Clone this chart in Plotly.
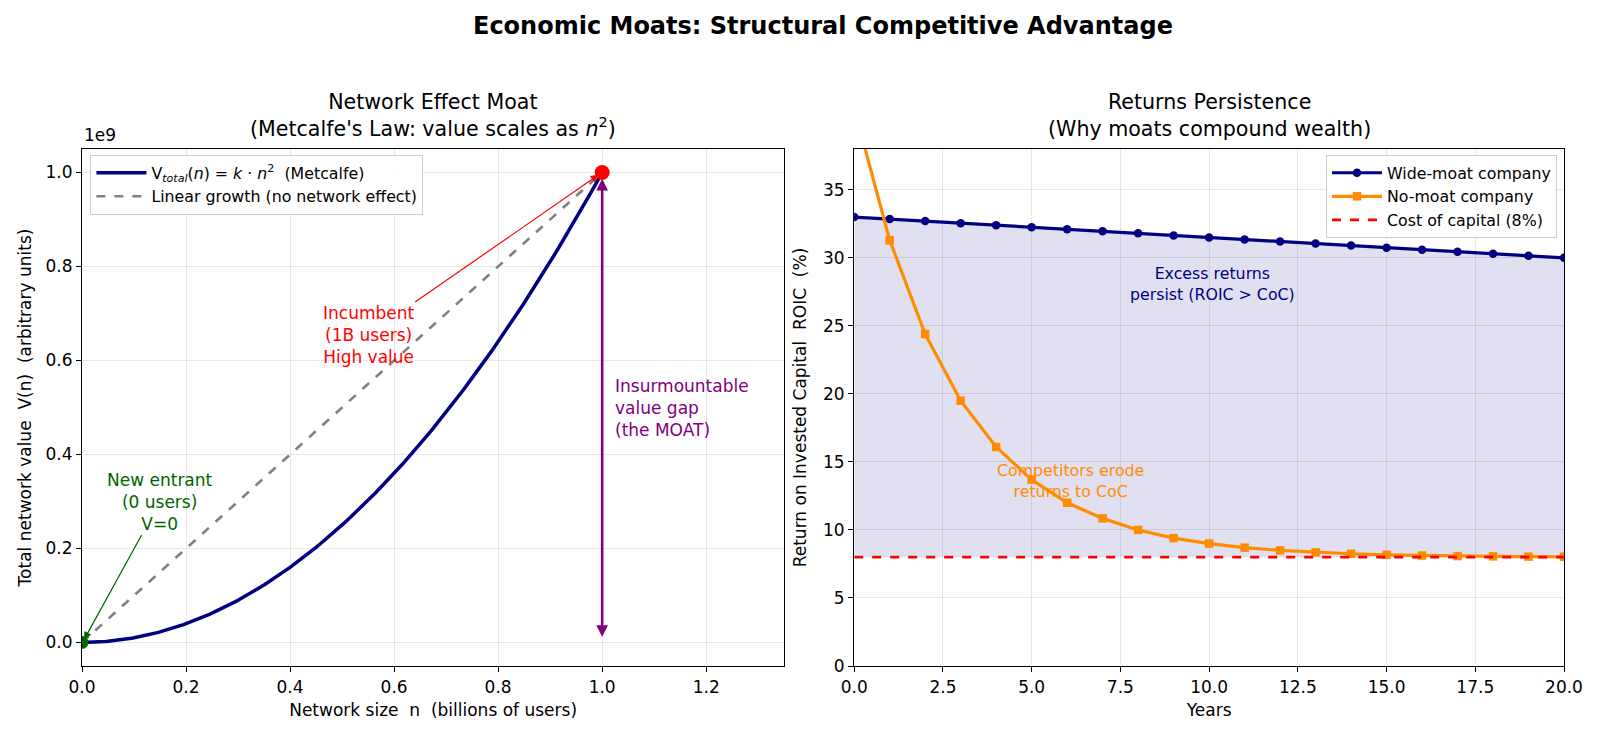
import numpy as np
import plotly.graph_objects as go

# ---------------- data ----------------
# Left panel: network size (billions) and Metcalfe value
n_users = np.linspace(0, 1, 201)
k_const = 1e9
v_metcalfe = k_const * n_users ** 2
v_linear = k_const * n_users
left_ticks = [0.0, 0.2, 0.4, 0.6, 0.8, 1.0]

# Right panel: ROIC over time
years = list(range(0, 21))
wide_moat = [33.0, 32.85, 32.7, 32.55, 32.4, 32.25, 32.1, 31.95, 31.8, 31.65, 31.5,
             31.35, 31.2, 31.05, 30.9, 30.75, 30.6, 30.45, 30.3, 30.15, 30.0]
no_moat = [41.0, 31.3, 24.4, 19.5, 16.1, 13.7, 12.0, 10.85, 10.0, 9.4, 9.0,
           8.7, 8.5, 8.35, 8.25, 8.17, 8.12, 8.08, 8.06, 8.04, 8.03]
cost_of_capital = 8.0

FONT = "DejaVu Sans"
W, H = 1600, 738
ML, MR, MT, MB = 81.6, 36, 149, 72
PW = W - ML - MR
PH = H - MT - MB
X1 = [0, (784 - ML) / PW]
X2 = [(854 - ML) / PW, 1]

fig = go.Figure()

# ---------------- left panel ----------------
fig.add_trace(go.Scatter(x=n_users, y=v_metcalfe, mode="lines",
                         line=dict(color="#000080", width=3.5),
                         name="V<sub><i>total</i></sub>(<i>n</i>) = <i>k</i> · <i>n</i><sup>2</sup>  (Metcalfe)",
                         xaxis="x", yaxis="y", legend="legend"))
fig.add_trace(go.Scatter(x=n_users, y=v_linear, mode="lines",
                         line=dict(color="#808080", width=2.6, dash="dash"),
                         name="Linear growth (no network effect)",
                         xaxis="x", yaxis="y", legend="legend"))
fig.add_trace(go.Scatter(x=[1.0], y=[k_const], mode="markers",
                         marker=dict(color="red", size=15), showlegend=False,
                         xaxis="x", yaxis="y"))
fig.add_trace(go.Scatter(x=[0.0], y=[0.0], mode="markers",
                         marker=dict(color="#006400", size=13), showlegend=False,
                         xaxis="x", yaxis="y"))

# ---------------- right panel ----------------
fig.add_trace(go.Scatter(x=years, y=[cost_of_capital] * len(years), mode="lines",
                         line=dict(width=0), showlegend=False, hoverinfo="skip",
                         xaxis="x2", yaxis="y2"))
fig.add_trace(go.Scatter(x=years, y=wide_moat, mode="lines", fill="tonexty",
                         fillcolor="rgba(0,0,128,0.12)", line=dict(width=0),
                         showlegend=False, hoverinfo="skip",
                         xaxis="x2", yaxis="y2"))
fig.add_trace(go.Scatter(x=years, y=wide_moat, mode="lines+markers",
                         line=dict(color="#000080", width=3.2),
                         marker=dict(symbol="circle", size=8.5, color="#000080"),
                         name="Wide-moat company", xaxis="x2", yaxis="y2", legend="legend2"))
fig.add_trace(go.Scatter(x=years, y=no_moat, mode="lines+markers",
                         line=dict(color="#ff8c00", width=3.2),
                         marker=dict(symbol="square", size=8.5, color="#ff8c00"),
                         name="No-moat company", xaxis="x2", yaxis="y2", legend="legend2"))
fig.add_trace(go.Scatter(x=[0, 20], y=[cost_of_capital, cost_of_capital], mode="lines",
                         line=dict(color="red", width=2.6, dash="dash"),
                         name="Cost of capital (8%)", xaxis="x2", yaxis="y2", legend="legend2"))

axis_common = dict(showline=True, linecolor="black", linewidth=1.2, mirror=True,
                   ticks="outside", ticklen=5, tickcolor="black", automargin=False,
                   showgrid=True, gridcolor="rgba(0,0,0,0.09)", gridwidth=1,
                   zeroline=False, tickfont=dict(family=FONT, size=17, color="black"),
                   title_font=dict(family=FONT, size=17, color="black"))

legend_common = dict(bgcolor="rgba(255,255,255,0.85)", bordercolor="#cccccc", borderwidth=1,
                     font=dict(family=FONT, size=15.8), tracegroupgap=0,
                     traceorder="normal", itemwidth=50)

fig.update_layout(
    width=W, height=H,
    margin=dict(l=ML, r=MR, t=MT, b=MB, autoexpand=False),
    paper_bgcolor="white", plot_bgcolor="white",
    font=dict(family=FONT, color="black"),
    xaxis=dict(domain=X1, range=[0, 1.35], anchor="y",
               tickvals=[0.0, 0.2, 0.4, 0.6, 0.8, 1.0, 1.2], tickformat=".1f",
               title=dict(text="Network size  n  (billions of users)", standoff=8),
               **axis_common),
    yaxis=dict(domain=[0, 1], range=[-0.05e9, 1.05e9], anchor="x",
               tickvals=[t * k_const for t in left_ticks],
               ticktext=[f"{t:.1f}" for t in left_ticks],
               title=dict(text="Total network value  V(n)  (arbitrary units)", standoff=9),
               **axis_common),
    xaxis2=dict(domain=X2, range=[0, 20], anchor="y2",
                tickvals=[0, 2.5, 5, 7.5, 10, 12.5, 15, 17.5, 20], tickformat=".1f",
                title=dict(text="Years", standoff=8), **axis_common),
    yaxis2=dict(domain=[0, 1], range=[0, 38], anchor="x2",
                tickvals=[0, 5, 10, 15, 20, 25, 30, 35],
                title=dict(text="Return on Invested Capital  ROIC  (%)", standoff=12),
                **axis_common),
    legend=dict(x=(90 - ML) / PW, y=(H - MB - 155) / PH, xanchor="left", yanchor="top",
                **legend_common),
    legend2=dict(x=(1557 - ML) / PW, y=(H - MB - 155) / PH, xanchor="right", yanchor="top",
                 **legend_common),
    showlegend=True,
)


def py(pix):
    return (H - MB - pix) / PH


annotations = [
    dict(text="<b>Economic Moats: Structural Competitive Advantage</b>", x=0.5, y=py(26),
         xref="paper", yref="paper", showarrow=False, font=dict(size=24, family=FONT),
         xanchor="center", yanchor="middle"),
    dict(text="Network Effect Moat<br>(Metcalfe's Law: value scales as <i>n</i><sup>2</sup>)",
         x=(X1[0] + X1[1]) / 2, y=py(143), xref="paper", yref="paper", showarrow=False,
         font=dict(size=20.6, family=FONT), xanchor="center", yanchor="bottom"),
    dict(text="Returns Persistence<br>(Why moats compound wealth)",
         x=(X2[0] + X2[1]) / 2, y=py(143), xref="paper", yref="paper", showarrow=False,
         font=dict(size=20.6, family=FONT), xanchor="center", yanchor="bottom"),
    dict(text="1e9", x=0, y=py(147), xref="paper", yref="paper", showarrow=False,
         font=dict(size=17, family=FONT), xanchor="left", yanchor="bottom"),
    # purple double arrow
    dict(x=1.0, y=0.012e9, ax=1.0, ay=0.99e9, xref="x", yref="y", axref="x", ayref="y",
         text="", showarrow=True, arrowhead=2, arrowside="end+start", arrowsize=0.9,
         arrowwidth=2.6, arrowcolor="#800080"),
    dict(text="Insurmountable<br>value gap<br>(the MOAT)", x=1.02, y=0.5e9, xref="x", yref="y",
         showarrow=False, xanchor="left", yanchor="middle", align="left",
         font=dict(color="#800080", size=17, family=FONT)),
    # incumbent (text with arrow to the incumbent point)
    dict(text="Incumbent<br>(1B users)<br>High value", x=0.993, y=0.995e9,
         ax=0.55, ay=0.655e9, xref="x", yref="y", axref="x", ayref="y",
         showarrow=True, arrowhead=2, arrowsize=1.3, arrowwidth=1.2, arrowcolor="red",
         align="center", font=dict(color="red", size=17, family=FONT)),
    # new entrant
    dict(text="New entrant<br>(0 users)<br>V=0", x=0.004, y=0.006e9,
         ax=0.15, ay=0.30e9, xref="x", yref="y", axref="x", ayref="y",
         showarrow=True, arrowhead=2, arrowsize=1.3, arrowwidth=1.2, arrowcolor="#006400",
         align="center", font=dict(color="#006400", size=17, family=FONT)),
    # right panel texts
    dict(text="Excess returns<br>persist (ROIC > CoC)", x=10.1, y=28.1, xref="x2", yref="y2",
         showarrow=False, xanchor="center", yanchor="middle", align="center",
         font=dict(color="#000080", size=15.8, family=FONT)),
    dict(text="Competitors erode<br>returns to CoC", x=6.1, y=13.6, xref="x2", yref="y2",
         showarrow=False, xanchor="center", yanchor="middle", align="center",
         font=dict(color="#ff8c00", size=15.8, family=FONT)),
]
fig.update_layout(annotations=annotations)

fig.write_html("out.html")
